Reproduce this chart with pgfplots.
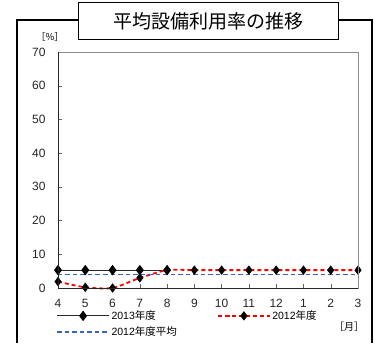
\documentclass[border=0pt]{standalone}
\usepackage{fontspec}
\setmainfont{Liberation Sans}
\newfontfamily\cjk{Noto Sans CJK JP}
\usepackage{pgfplots}
\pgfplotsset{compat=1.18}
\definecolor{myred}{RGB}{255,0,0}
\definecolor{myblue}{RGB}{60,100,190}
\definecolor{myblack}{RGB}{40,40,40}
\begin{document}
\begin{tikzpicture}
\useasboundingbox (0pt,0pt) rectangle (375pt,343pt);
\draw[line width=2pt] (17pt,0pt) -- (17pt,323pt) -- (372pt,323pt) -- (372pt,0pt);
\begin{axis}[
  at={(58pt,55pt)}, anchor=south west, scale only axis,
  width=300pt, height=236pt,
  xmin=0, xmax=11, ymin=0, ymax=70,
  xtick={0,...,11}, xticklabels={4,5,6,7,8,9,10,11,12,1,2,3},
  ytick={0,10,...,70},
  xtick pos=bottom, ytick pos=left,
  tick align=inside, major tick length=4pt,
  tick style={black!60, line width=0.4pt},
  axis line style={draw=none},
  /pgf/number format/assume math mode=true,
  ticklabel style={font=\fontsize{12}{12}\selectfont, text=black!85},
  xticklabel style={yshift=-8pt},
  yticklabel style={xshift=-9pt},
  clip=false,
  legend columns=2,
  legend cell align=left,
  legend style={draw=none, fill=none, at={(0,0)}, anchor=north west,
    xshift=-2pt, yshift=-21pt, font=\fontsize{10.5}{11}\selectfont,
    row sep=3pt, inner sep=0pt, nodes={inner sep=1.5pt}},
  legend image code/.code={\draw[mark repeat=2,mark phase=2,#1] plot coordinates {(0pt,0pt) (26pt,0pt) (52pt,0pt)};},
]
\addplot[myblack, line width=1.2pt, mark=diamond*, mark size=4.3pt, mark options={solid, fill=black, draw=black}]
  coordinates {(0,5.3)(1,5.3)(2,5.3)(3,5.3)(4,5.3)};
\addlegendentry{\makebox[104pt][l]{2013{\cjk 年度}}}
\addplot[myred, line width=1.8pt, dash pattern=on 4pt off 3pt, smooth, tension=0.4, mark=diamond*, mark size=4.3pt, mark options={solid, fill=black, draw=black, line width=0.5pt}]
  coordinates {(0,1.9)(1,0.2)(2,0)(3,3.0)(4,5.3)(5,5.3)(6,5.3)(7,5.3)(8,5.3)(9,5.3)(10,5.3)(11,5.3)};
\addlegendentry{2012{\cjk 年度}}
\addplot[myblue, line width=1.8pt, dash pattern=on 4.5pt off 3pt]
  coordinates {(0,4.0)(1,4.0)(2,4.0)(3,4.0)(4,4.0)(5,4.0)(6,4.0)(7,4.0)(8,4.0)(9,4.0)(10,4.0)(11,4.0)};
\addlegendentry{\makebox[104pt][l]{2012{\cjk 年度平均}}}
\end{axis}
\draw[black!45, line width=0.5pt] (58pt,55pt) rectangle (358pt,291pt);
\draw[black!85, line width=0.8pt] (58pt,291pt) -- (58pt,55pt) -- (358pt,55pt);
\node[draw, line width=1pt, fill=white, minimum width=260pt, minimum height=37pt] at (208pt,321.5pt) {\cjk\fontsize{19}{19}\selectfont 平均設備利用率の推移};
\node[font=\cjk\fontsize{9.5}{9.5}\selectfont] at (50pt,306pt) {［\%］};
\node[font=\cjk\fontsize{10}{10}\selectfont] at (349pt,16pt) {［月］};
\end{tikzpicture}
\end{document}
